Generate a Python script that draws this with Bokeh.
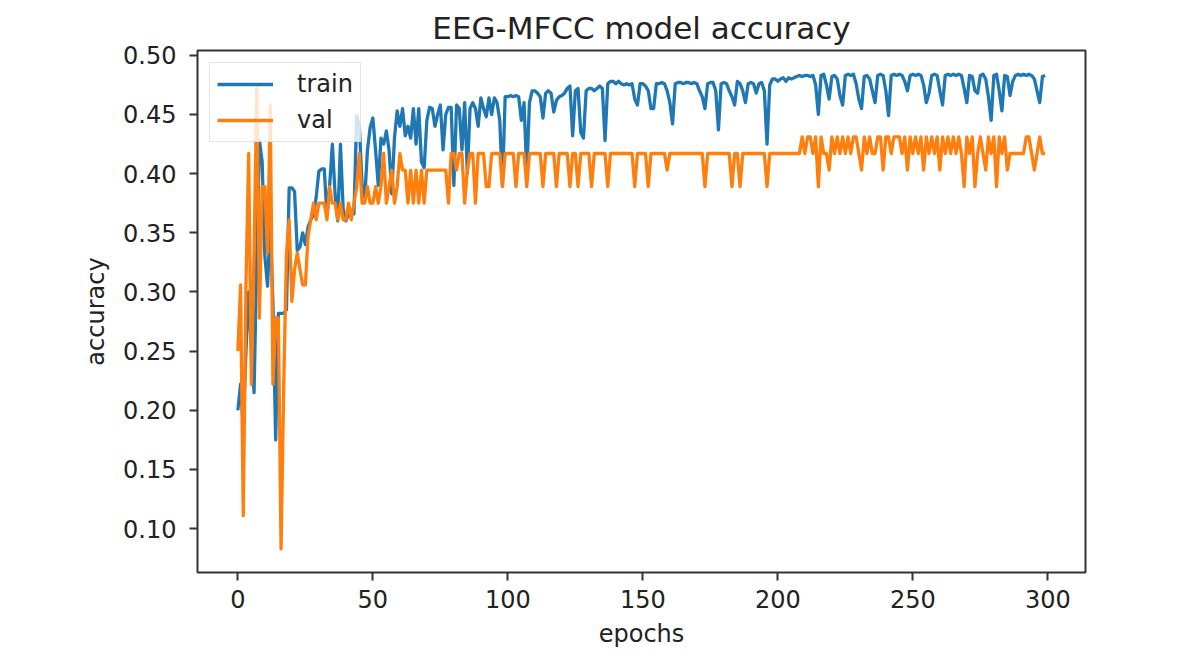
from bokeh.plotting import figure
from bokeh.models import Range1d, FixedTicker, Legend, LegendItem, NumeralTickFormatter
from bokeh.embed import file_html
from bokeh.resources import INLINE

title_text = "EEG-MFCC model accuracy"
x_label = "epochs"
y_label = "accuracy"
series_names = ["train", "val"]
x_ticks = [0, 50, 100, 150, 200, 250, 300]
y_ticks = [0.10, 0.15, 0.20, 0.25, 0.30, 0.35, 0.40, 0.45, 0.50]

train = [
    0.200, 0.222, 0.186, 0.250, 0.300, 0.250, 0.215, 0.330, 0.428, 0.410,
    0.330, 0.305, 0.360, 0.290, 0.175, 0.282, 0.282, 0.282, 0.285, 0.388,
    0.388, 0.385, 0.335, 0.338, 0.350, 0.340, 0.355, 0.361, 0.365, 0.380,
    0.402, 0.404, 0.404, 0.365, 0.390, 0.425, 0.383, 0.360, 0.425, 0.370,
    0.360, 0.366, 0.368, 0.366, 0.449, 0.440, 0.391, 0.380, 0.420, 0.439,
    0.447, 0.420, 0.390, 0.430, 0.425, 0.436, 0.420, 0.383, 0.430, 0.453,
    0.440, 0.455, 0.432, 0.440, 0.430, 0.455, 0.425, 0.455, 0.410, 0.405,
    0.445, 0.456, 0.455, 0.440, 0.450, 0.458, 0.420, 0.450, 0.456, 0.456,
    0.390, 0.458, 0.455, 0.420, 0.460, 0.400, 0.455, 0.460, 0.455, 0.440,
    0.464, 0.455, 0.448, 0.464, 0.450, 0.464, 0.460, 0.445, 0.390, 0.465,
    0.465, 0.466, 0.465, 0.466, 0.465, 0.445, 0.460, 0.400, 0.460, 0.470,
    0.470, 0.468, 0.465, 0.447, 0.468, 0.470, 0.468, 0.452, 0.462, 0.465,
    0.466, 0.468, 0.472, 0.474, 0.432, 0.470, 0.472, 0.435, 0.430, 0.470,
    0.472, 0.472, 0.470, 0.472, 0.474, 0.472, 0.428, 0.476, 0.478, 0.478,
    0.476, 0.478, 0.476, 0.475, 0.476, 0.475, 0.476, 0.463, 0.458, 0.476,
    0.476, 0.474, 0.470, 0.455, 0.455, 0.476, 0.476, 0.477, 0.476, 0.470,
    0.460, 0.442, 0.476, 0.477, 0.477, 0.476, 0.477, 0.477, 0.476, 0.477,
    0.476, 0.470, 0.465, 0.455, 0.476, 0.477, 0.477, 0.470, 0.437, 0.476,
    0.477, 0.476, 0.470, 0.465, 0.458, 0.478, 0.476, 0.470, 0.460, 0.476,
    0.477, 0.476, 0.468, 0.476, 0.477, 0.470, 0.425, 0.475, 0.480, 0.480,
    0.478, 0.480, 0.481, 0.478, 0.481, 0.480, 0.481, 0.482, 0.483, 0.482,
    0.483, 0.483, 0.482, 0.483, 0.475, 0.450, 0.483, 0.484, 0.475, 0.463,
    0.482, 0.483, 0.480, 0.466, 0.458, 0.483, 0.484, 0.483, 0.484, 0.476,
    0.463, 0.455, 0.482, 0.483, 0.480, 0.470, 0.460, 0.483, 0.484, 0.483,
    0.470, 0.449, 0.483, 0.484, 0.483, 0.484, 0.483, 0.478, 0.470, 0.483,
    0.484, 0.483, 0.484, 0.483, 0.475, 0.460, 0.468, 0.483, 0.484, 0.483,
    0.470, 0.458, 0.483, 0.484, 0.483, 0.484, 0.483, 0.484, 0.483, 0.472,
    0.460, 0.483, 0.482, 0.470, 0.468, 0.483, 0.484, 0.480, 0.465, 0.445,
    0.483, 0.484, 0.470, 0.453, 0.483, 0.482, 0.466, 0.478, 0.483, 0.484,
    0.483, 0.484, 0.483, 0.484, 0.483, 0.480, 0.470, 0.460, 0.482, 0.483,
]

val = [
    0.250, 0.306, 0.111, 0.306, 0.417, 0.222, 0.333, 0.472, 0.278, 0.389,
    0.389, 0.333, 0.458, 0.222, 0.278, 0.278, 0.083, 0.222, 0.333, 0.361,
    0.292, 0.319, 0.333, 0.319, 0.306, 0.306, 0.347, 0.361, 0.375, 0.361,
    0.375, 0.375, 0.375, 0.361, 0.389, 0.375, 0.375, 0.361, 0.375, 0.361,
    0.361, 0.375, 0.361, 0.375, 0.389, 0.417, 0.375, 0.375, 0.389, 0.375,
    0.375, 0.389, 0.375, 0.389, 0.417, 0.375, 0.389, 0.403, 0.375, 0.389,
    0.417, 0.403, 0.403, 0.375, 0.403, 0.375, 0.403, 0.375, 0.403, 0.375,
    0.403, 0.403, 0.403, 0.403, 0.403, 0.403, 0.403, 0.403, 0.375, 0.417,
    0.417, 0.403, 0.417, 0.417, 0.375, 0.403, 0.417, 0.417, 0.375, 0.417,
    0.417, 0.417, 0.389, 0.389, 0.417, 0.417, 0.417, 0.417, 0.389, 0.417,
    0.417, 0.417, 0.417, 0.389, 0.417, 0.417, 0.417, 0.389, 0.417, 0.417,
    0.417, 0.417, 0.417, 0.389, 0.417, 0.417, 0.417, 0.417, 0.389, 0.417,
    0.417, 0.417, 0.417, 0.389, 0.417, 0.417, 0.389, 0.417, 0.417, 0.417,
    0.417, 0.389, 0.417, 0.417, 0.417, 0.417, 0.417, 0.389, 0.417, 0.417,
    0.417, 0.417, 0.417, 0.417, 0.417, 0.417, 0.417, 0.389, 0.417, 0.417,
    0.417, 0.417, 0.389, 0.417, 0.417, 0.417, 0.417, 0.417, 0.417, 0.403,
    0.417, 0.417, 0.417, 0.417, 0.417, 0.417, 0.417, 0.417, 0.417, 0.417,
    0.417, 0.417, 0.417, 0.389, 0.417, 0.417, 0.417, 0.417, 0.417, 0.417,
    0.417, 0.417, 0.417, 0.389, 0.417, 0.417, 0.389, 0.417, 0.417, 0.417,
    0.417, 0.417, 0.417, 0.417, 0.417, 0.417, 0.389, 0.417, 0.417, 0.417,
    0.417, 0.417, 0.417, 0.417, 0.417, 0.417, 0.417, 0.417, 0.417, 0.431,
    0.417, 0.431, 0.431, 0.417, 0.431, 0.389, 0.431, 0.417, 0.417, 0.403,
    0.431, 0.417, 0.431, 0.417, 0.431, 0.417, 0.431, 0.417, 0.431, 0.431,
    0.417, 0.403, 0.431, 0.417, 0.431, 0.417, 0.417, 0.431, 0.431, 0.403,
    0.431, 0.431, 0.417, 0.431, 0.431, 0.431, 0.417, 0.431, 0.403, 0.431,
    0.417, 0.431, 0.417, 0.431, 0.403, 0.431, 0.417, 0.431, 0.417, 0.431,
    0.403, 0.431, 0.417, 0.431, 0.417, 0.431, 0.417, 0.431, 0.417, 0.389,
    0.431, 0.417, 0.431, 0.389, 0.417, 0.431, 0.417, 0.403, 0.431, 0.417,
    0.431, 0.389, 0.431, 0.417, 0.431, 0.403, 0.417, 0.417, 0.417, 0.417,
    0.417, 0.417, 0.431, 0.431, 0.417, 0.403, 0.417, 0.431, 0.417, 0.417,
]

epochs = list(range(len(train)))

# matplotlib-style 5% auto margins
xlo, xhi = min(epochs), max(epochs)
xpad = 0.05 * (xhi - xlo)
ylo, yhi = min(train + val), max(train + val)
ypad = 0.05 * (yhi - ylo)

FONT = "DejaVu Sans"
TXT = "#222222"
SPINE = "#333333"

p = figure(
    width=1180, height=650,
    x_range=Range1d(xlo - xpad, xhi + xpad),
    y_range=Range1d(ylo - ypad, yhi + ypad),
    output_backend="svg", toolbar_location=None,
    min_border_left=197, min_border_right=95,
    min_border_top=50, min_border_bottom=77,
    title=title_text,
)
p.background_fill_color = "white"
p.border_fill_color = "white"
p.grid.visible = False
p.outline_line_color = SPINE
p.outline_line_width = 2

p.title.text_font = FONT
p.title.text_font_size = "31px"
p.title.text_font_style = "normal"
p.title.text_color = TXT
p.title.align = "center"
p.title.standoff = 9

for ax in (p.xaxis[0], p.yaxis[0]):
    ax.axis_line_color = None
    ax.major_tick_line_color = SPINE
    ax.major_tick_line_width = 2
    ax.major_tick_out = 8
    ax.major_tick_in = 0
    ax.minor_tick_line_color = None
    ax.major_label_text_font = FONT
    ax.major_label_text_font_size = "24px"
    ax.major_label_text_color = TXT
    ax.axis_label_text_font = FONT
    ax.axis_label_text_font_size = "24px"
    ax.axis_label_text_font_style = "normal"
    ax.axis_label_text_color = TXT

p.xaxis.ticker = FixedTicker(ticks=x_ticks)
p.yaxis.ticker = FixedTicker(ticks=y_ticks)
p.yaxis.formatter = NumeralTickFormatter(format="0.00")
p.xaxis.axis_label = x_label
p.yaxis.axis_label = y_label
p.xaxis.major_label_standoff = 9
p.yaxis.major_label_standoff = 13
p.xaxis.axis_label_standoff = 9
p.yaxis.axis_label_standoff = 10

r_train = p.line(epochs, train, line_color="#1f77b4", line_width=3.3, line_join="round")
r_val = p.line(epochs, val, line_color="#ff7f0e", line_width=3.3, line_join="round")

legend = Legend(
    items=[LegendItem(label=series_names[0], renderers=[r_train]),
           LegendItem(label=series_names[1], renderers=[r_val])],
    location="top_left",
)
legend.margin = 12
legend.padding = 7
legend.spacing = 8
legend.label_height = 20
legend.glyph_height = 20
legend.glyph_width = 56
legend.label_standoff = 24
legend.label_text_font = FONT
legend.label_text_font_size = "24px"
legend.label_text_color = TXT
legend.background_fill_color = "white"
legend.background_fill_alpha = 0.8
legend.border_line_color = "#cccccc"
legend.border_line_width = 1.5
p.add_layout(legend, "center")

open("out.html", "w").write(file_html(p, INLINE))
